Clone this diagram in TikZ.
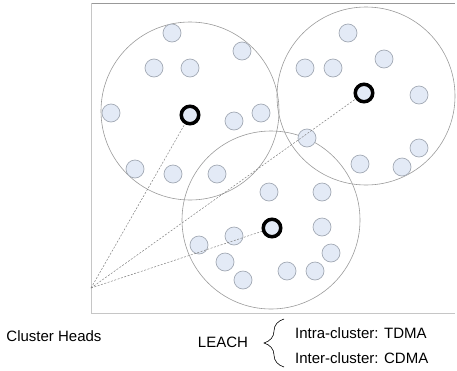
\documentclass[tikz,border=0pt]{standalone}
\usepackage{fontspec}
\setmainfont{Liberation Sans}
\usetikzlibrary{decorations.pathreplacing}
\definecolor{nodefill}{HTML}{E3EAF6}
\definecolor{nodeedge}{HTML}{A3AAB5}
\definecolor{ringgray}{HTML}{9A9A9A}
\begin{document}
\begin{tikzpicture}[x=1pt,y=-1pt,
  sensor/.style={circle,draw=nodeedge,fill=nodefill,line width=0.7pt,minimum size=18pt,inner sep=0pt},
  head/.style={circle,draw=black,fill=nodefill,line width=3.5pt,minimum size=17.5pt,inner sep=0pt},
  cluster/.style={circle,draw=ringgray,line width=0.6pt,minimum size=178pt,inner sep=0pt},
  link/.style={draw=gray,dashed,dash pattern=on 2pt off 1.5pt,line width=0.5pt},
  lbl/.style={font=\fontsize{15}{17}\selectfont,inner sep=0pt}]
\useasboundingbox (0,0) rectangle (457,370);
% frame
\draw[draw=gray!80,line width=1pt] (91,3) -- (455,3);
\draw[draw=gray!45,line width=1pt] (91,3) -- (91,313) -- (455,313);
% clusters
\node[cluster] (c1) at (190,111) {};
\node[cluster] (c2) at (366,96) {};
\node[cluster] (c3) at (271,220) {};
% sensors cluster 1
\foreach \n/\x/\y in {a1/172/33,a2/242/51,a3/154/68,a4/190/68,a5/111/113,a6/234/121,a7/261/113,a8/135/169,a9/173/174,a10/217/174}
  \node[sensor] (\n) at (\x,\y) {};
% sensors cluster 2
\foreach \n/\x/\y in {b1/348/33,b2/384/59,b3/305/68,b4/333/68,b5/419/95,b6/419/148,b7/307/138,b8/360/164,b9/402/167}
  \node[sensor] (\n) at (\x,\y) {};
% sensors cluster 3
\foreach \n/\x/\y in {d1/269/192,d2/322/192,d3/322/227,d4/234/236,d5/199/245,d6/331/253,d7/225/262,d8/243/280,d9/287/271,d10/315/271}
  \node[sensor] (\n) at (\x,\y) {};
% cluster heads
\node[head] (h1) at (190,115) {};
\node[head] (h2) at (364,93) {};
\node[head] (h3) at (272,228) {};
% base point and links
\coordinate (o) at (91,288);
\draw[link] (o) -- (h1);
\draw[link] (o) -- (h2);
\draw[link] (o) -- (h3);
% labels
\node[lbl] (ch) at (54,336) {Cluster Heads};
\node[lbl] (leach) at (223,342) {LEACH};
\node[lbl,anchor=west] (intra) at (295,333) {Intra-cluster: TDMA};
\node[lbl,anchor=west] (inter) at (295,358) {Inter-cluster: CDMA};
\coordinate (bb) at (284,367);
\coordinate (bt) at (284,319);
\draw[decorate,decoration={brace,amplitude=20pt,aspect=0.5},line width=0.6pt] (bb) -- (bt);
\end{tikzpicture}
\end{document}
